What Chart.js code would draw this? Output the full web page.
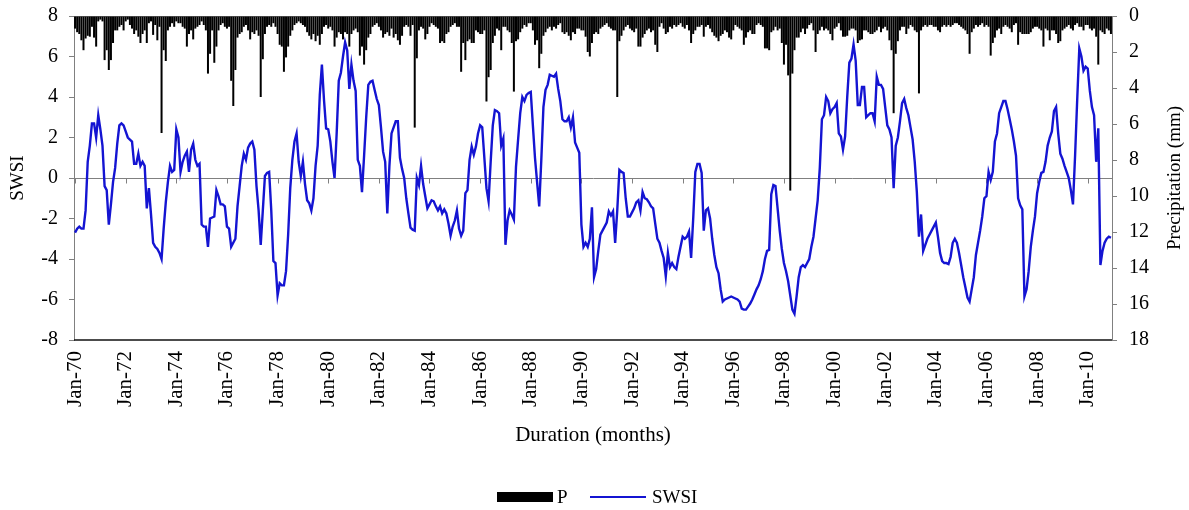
<!DOCTYPE html>
<html><head><meta charset="utf-8">
<script src="https://cdn.jsdelivr.net/npm/chart.js@4"></script>
<style>
html,body{margin:0;padding:0;background:#fff;}
#wrap{position:relative;width:1189px;height:510px;overflow:hidden;}
canvas{position:absolute;left:0;top:0;}
#legend{position:absolute;top:486px;left:0;width:1189px;height:22px;font-family:"Liberation Serif","Times New Roman",serif;font-size:19px;color:#000;}
.item{position:absolute;top:0;display:flex;align-items:center;height:22px;white-space:nowrap;}
</style></head>
<body><div id="wrap"><canvas id="c" width="1189" height="510"></canvas>
<div id="legend">
<div class="item" style="left:497px"><span style="display:inline-block;width:56px;height:10px;background:#000;margin-right:4px"></span>P</div>
<div class="item" style="left:590px"><span style="display:inline-block;width:56px;height:0;border-top:2.5px solid #1414D2;margin-right:6px"></span>SWSI</div>
</div></div>
<script>
const FONT = '"Liberation Serif", "Times New Roman", serif';
const years = [];
for (let y = 1970; y <= 2010; y++) years.push(y);
const monthNames = ['Jan','Feb','Mar','Apr','May','Jun','Jul','Aug','Sep','Oct','Nov','Dec'];
const tickLabels = ['Jan-70','Jan-72','Jan-74','Jan-76','Jan-78','Jan-80','Jan-82','Jan-84','Jan-86','Jan-88','Jan-90','Jan-92','Jan-94','Jan-96','Jan-98','Jan-00','Jan-02','Jan-04','Jan-06','Jan-08','Jan-10'];

const swsi = [
-2.7,-2.5,-2.4,-2.5,-2.5,-1.6,0.8,1.6,2.7,2.7,2.0,3.1,
2.4,1.6,-0.4,-0.6,-2.3,-1.3,-0.2,0.5,1.7,2.6,2.7,2.6,
2.3,2.0,1.9,1.8,0.7,0.7,1.2,0.6,0.8,0.6,-1.5,-0.5,
-1.8,-3.2,-3.4,-3.5,-3.7,-4.0,-2.5,-1.2,-0.2,0.6,0.3,0.4,
2.4,2.0,0.3,0.8,1.1,1.3,0.3,1.4,1.7,0.9,0.6,0.7,
-2.3,-2.4,-2.4,-3.4,-2.0,-1.95,-1.9,-0.6,-0.9,-1.3,-1.3,-1.4,
-2.4,-2.5,-3.4,-3.2,-3.0,-1.4,-0.4,0.6,1.2,0.9,1.5,1.7,
1.8,1.4,-0.4,-1.6,-3.3,-1.6,0.1,0.25,0.3,-1.6,-4.1,-4.2,
-5.8,-5.2,-5.3,-5.3,-4.6,-2.8,-0.5,0.9,1.8,2.2,0.8,0.1,
0.8,-0.3,-1.1,-1.25,-1.6,-1.0,0.6,1.6,4.1,5.6,3.85,2.45,
2.4,1.8,0.8,0.0,2.2,4.8,5.2,6.0,6.7,6.3,4.4,5.6,
4.8,4.3,0.9,0.6,-0.7,1.1,3.0,4.6,4.75,4.8,4.35,3.9,
3.6,2.5,1.3,0.8,-1.75,0.6,2.2,2.5,2.8,2.8,1.0,0.45,
0.0,-1.0,-1.75,-2.45,-2.55,-2.6,0.0,-0.35,0.6,-0.3,-0.9,-1.5,
-1.3,-1.1,-1.15,-1.4,-1.6,-1.4,-1.75,-1.55,-1.75,-2.25,-2.85,-2.4,
-2.1,-1.6,-2.5,-2.85,-2.6,-0.75,-0.6,0.9,1.55,1.15,1.55,2.2,
2.6,2.5,1.0,-0.5,-1.15,0.8,2.6,3.35,3.3,3.2,1.6,1.95,
-3.3,-2.1,-1.6,-1.8,-2.05,0.55,1.9,3.2,4.0,3.8,4.1,4.2,
4.25,2.6,1.0,-0.2,-1.4,0.9,3.5,4.35,4.6,5.1,5.05,5.0,
5.15,4.4,3.8,2.9,2.8,2.8,3.0,2.5,3.0,1.75,1.5,1.25,
-2.3,-3.4,-3.2,-3.4,-3.0,-1.45,-4.9,-4.5,-3.6,-2.8,-2.6,-2.4,
-2.2,-1.65,-1.85,-1.65,-3.2,-1.6,0.4,0.3,0.25,-1.0,-1.9,-1.9,
-1.7,-1.5,-1.2,-1.1,-1.6,-0.7,-1.0,-1.05,-1.2,-1.4,-1.5,-2.25,
-3.0,-3.2,-3.6,-3.95,-4.85,-3.7,-4.4,-4.2,-4.4,-4.5,-3.9,-3.4,
-2.9,-3.0,-2.9,-2.65,-3.95,-2.0,0.3,0.7,0.7,0.25,-2.6,-1.6,
-1.5,-2.0,-3.0,-3.8,-4.4,-4.7,-5.5,-6.1,-6.0,-5.95,-5.9,-5.85,
-5.9,-5.95,-6.0,-6.1,-6.45,-6.5,-6.5,-6.35,-6.2,-6.0,-5.75,-5.5,
-5.3,-5.0,-4.6,-4.0,-3.6,-3.55,-0.8,-0.35,-0.4,-1.5,-2.6,-3.5,
-4.2,-4.6,-5.1,-5.8,-6.5,-6.7,-5.85,-4.9,-4.4,-4.3,-4.4,-4.2,
-4.0,-3.4,-2.9,-2.0,-1.1,0.5,2.9,3.1,4.0,3.8,3.2,3.4,
3.5,3.7,2.2,2.05,1.4,2.05,4.0,5.7,5.9,6.6,5.8,3.6,
3.6,4.5,4.5,3.0,3.1,3.2,3.2,2.8,5.0,4.6,4.6,4.4,
3.5,2.6,2.4,2.0,-0.5,1.6,2.0,2.8,3.7,3.9,3.45,3.1,
2.5,1.9,0.8,-0.7,-2.9,-1.8,-3.6,-3.3,-3.0,-2.8,-2.6,-2.4,
-2.2,-2.9,-3.7,-4.1,-4.2,-4.2,-4.25,-3.9,-3.2,-3.0,-3.2,-3.7,
-4.3,-4.9,-5.4,-5.9,-6.1,-5.5,-4.9,-3.8,-3.2,-2.6,-1.9,-1.0,
-0.9,0.3,-0.1,0.3,1.8,2.2,3.2,3.5,3.8,3.8,3.4,2.9,
2.4,1.8,1.1,-1.0,-1.35,-1.55,-5.85,-5.5,-4.6,-3.4,-2.6,-1.9,
-0.75,-0.2,0.25,0.3,0.8,1.6,2.0,2.3,3.3,3.5,2.2,1.2,
0.95,0.6,0.3,0.0,-0.6,-1.3,1.1,3.85,6.4,6.0,5.3,5.5,
5.4,4.3,3.5,3.1,0.8,2.45,-4.3,-3.6,-3.2,-3.0,-2.9,-2.95
];

const precip = [
0.7,0.9,1.0,1.35,1.9,1.25,1.1,1.15,0.6,1.2,1.7,0.3,
0.2,0.3,2.45,1.9,3.0,2.45,1.5,0.8,0.8,0.6,0.5,0.8,
0.3,0.2,0.5,0.7,1.0,0.8,1.15,1.5,1.0,0.8,1.5,0.4,
0.3,1.05,0.5,1.35,0.6,6.5,1.9,2.5,0.8,0.6,0.4,0.6,
0.3,0.4,0.4,0.6,0.7,1.7,1.0,0.8,1.3,0.7,0.6,0.5,
0.3,0.5,0.8,3.2,2.1,0.8,2.6,1.7,0.8,0.5,0.4,0.6,
0.7,0.6,3.6,5.0,3.0,1.2,1.0,0.9,0.6,0.5,0.8,1.3,
0.9,1.0,0.8,1.1,4.5,2.4,1.0,0.6,0.5,0.6,0.4,0.6,
1.0,1.6,1.7,3.1,2.3,1.7,1.1,0.8,0.5,0.4,0.3,0.4,
0.5,0.6,0.9,1.1,1.3,1.0,1.4,1.1,1.6,1.0,0.6,0.5,
0.7,0.6,0.8,1.7,1.2,0.9,1.0,1.3,0.9,1.0,1.7,1.0,
0.8,0.7,0.9,2.2,1.7,2.7,1.9,1.2,1.0,0.6,0.5,0.4,
0.6,0.8,1.2,1.0,0.9,1.1,0.7,1.2,1.0,1.35,1.6,1.1,
0.6,0.5,0.6,1.1,0.5,6.2,2.35,0.8,0.6,0.7,1.3,1.0,
0.6,0.4,0.5,0.6,0.7,1.5,1.4,1.5,1.0,0.9,0.6,0.5,
0.4,0.6,0.6,3.1,1.5,2.45,1.4,1.3,1.5,1.5,0.8,0.9,
1.0,1.0,0.8,4.75,3.4,3.0,1.5,1.1,0.7,0.8,1.9,0.6,
0.6,0.8,0.9,1.5,4.2,1.4,1.3,0.9,0.7,0.5,0.6,0.4,
0.4,0.8,1.6,1.35,2.9,2.1,1.1,0.9,0.7,0.6,0.8,0.6,
0.7,0.5,0.4,0.9,1.0,0.9,1.1,1.35,0.9,1.0,0.7,0.7,
0.8,0.8,1.15,2.0,2.25,1.5,1.0,0.9,1.0,0.7,0.6,0.5,
0.4,0.6,0.7,0.8,0.8,4.5,1.4,1.1,0.8,0.6,0.5,0.7,
0.8,0.9,0.7,1.7,1.7,1.2,1.0,0.8,0.7,0.9,0.8,1.6,
2.0,0.6,0.4,0.7,1.0,0.9,0.6,0.7,0.5,0.6,0.5,0.4,
0.6,0.7,0.5,0.8,1.5,1.0,0.8,0.6,0.6,0.5,1.15,0.6,
0.5,0.7,0.9,1.1,1.2,1.4,1.1,1.0,0.8,0.9,1.2,1.3,
0.8,0.5,0.6,0.7,0.8,1.6,1.2,0.9,0.8,1.0,1.0,0.5,
0.4,0.5,0.6,1.8,1.8,1.9,0.9,0.8,0.6,0.8,0.7,1.5,
2.7,1.6,3.3,9.7,3.2,1.9,1.2,1.2,0.9,0.7,1.0,0.7,
0.5,0.4,0.8,2.0,1.0,0.8,0.6,0.8,0.7,0.8,1.0,1.35,
0.7,0.6,0.4,0.8,1.15,1.15,1.1,0.8,0.7,0.7,0.8,1.5,
1.35,1.3,0.8,0.8,0.9,1.0,1.0,0.9,0.8,0.6,0.9,0.7,
0.6,0.8,1.35,1.9,5.4,2.1,1.4,0.8,0.6,0.6,1.0,0.7,
0.5,0.6,0.8,0.9,4.3,0.8,0.6,0.5,0.6,0.5,0.5,0.6,
0.6,0.8,0.9,0.6,0.5,0.6,0.5,0.6,0.5,0.4,0.4,0.5,
0.6,0.7,0.8,1.0,2.1,0.9,0.7,0.5,0.6,0.5,0.4,0.6,
0.5,0.6,2.2,1.5,1.2,0.8,0.7,1.0,0.6,0.5,0.6,0.7,
0.9,0.5,0.4,1.6,0.9,1.0,1.0,1.0,1.0,0.9,0.7,0.6,
0.6,0.7,0.8,1.7,0.7,0.8,1.35,0.8,0.8,1.0,1.5,1.4,
0.8,0.7,0.6,0.5,0.7,0.8,0.5,0.4,0.6,0.6,0.8,0.5,
0.5,0.7,0.8,0.7,1.15,2.7,0.8,0.9,1.0,0.7,0.8,1.0
];

const categories = [];
years.forEach(y => monthNames.forEach(m => categories.push(m + '-' + String(y).slice(2))));

const decor = {
  id: 'decor',
  beforeDatasetsDraw(chart) {
    const {ctx, chartArea: a, scales: {x, y}} = chart;
    ctx.save();
    ctx.strokeStyle = '#808080';
    ctx.lineWidth = 1;
    const y0 = Math.round(y.getPixelForValue(0)) + 0.5;
    categories.forEach((c, i) => {
      if (tickLabels.includes(c)) {
        const px = Math.round(x.getPixelForValue(i)) + 0.5;
        ctx.beginPath(); ctx.moveTo(px, y0); ctx.lineTo(px, y0 + 5); ctx.stroke();
      }
    });
    ctx.beginPath(); ctx.moveTo(a.left, a.top + 0.5); ctx.lineTo(a.right, a.top + 0.5); ctx.stroke();
    ctx.restore();
  },
  afterDraw(chart) {
    const {ctx, chartArea: a} = chart;
    ctx.save();
    ctx.strokeStyle = '#111';
    ctx.lineWidth = 1.6;
    ctx.beginPath(); ctx.moveTo(a.left, a.bottom); ctx.lineTo(a.right, a.bottom); ctx.stroke();
    ctx.translate(1175, (a.top + a.bottom) / 2);
    ctx.rotate(-Math.PI / 2);
    ctx.fillStyle = '#000';
    ctx.font = '19px ' + FONT;
    ctx.textAlign = 'center';
    ctx.textBaseline = 'middle';
    ctx.fillText('Precipitation (mm)', 0, 0);
    ctx.restore();
  }
};

new Chart(document.getElementById('c'), {
  data: {
    labels: categories,
    datasets: [
      {type: 'line', label: 'SWSI', data: swsi, yAxisID: 'y', borderColor: '#1414D2', borderWidth: 2.4,
       pointRadius: 0, tension: 0, fill: false, order: 0},
      {type: 'bar', label: 'P', data: precip, yAxisID: 'y2', backgroundColor: '#000',
       barPercentage: 1.0, categoryPercentage: 0.95, order: 1}
    ]
  },
  options: {
    responsive: false,
    animation: false,
    layout: {padding: {top: 16, bottom: 50, left: 0, right: 0}},
    plugins: {legend: {display: false}, tooltip: {enabled: false}},
    scales: {
      x: {
        type: 'category', offset: true,
        grid: {display: false, drawTicks: false},
        border: {display: false},
        ticks: {autoSkip: false, minRotation: 90, maxRotation: 90, padding: 11, color: '#000',
          font: {family: FONT, size: 21},
          callback: function (v) { const l = this.getLabelForValue(v); return tickLabels.includes(l) ? l : ''; }},
        title: {display: true, text: 'Duration (months)', color: '#000', font: {family: FONT, size: 21},
          padding: {top: 0, bottom: 12}},
        afterFit(s) { s.height = 120; s.paddingLeft = 0; s.paddingRight = 0; }
      },
      y: {
        position: 'left', min: -8, max: 8,
        ticks: {stepSize: 2, color: '#000', font: {family: FONT, size: 20}, padding: 11},
        grid: {color: c => (c.tick && c.tick.value === 0) ? '#808080' : 'rgba(0,0,0,0)', tickColor: '#808080', tickLength: 5},
        border: {color: '#808080'},
        title: {display: true, text: 'SWSI', color: '#000', font: {family: FONT, size: 19}, padding: {top: 7, bottom: 0}},
        afterFit(s) { s.width = 74; s.paddingTop = 0; s.paddingBottom = 0; }
      },
      y2: {
        position: 'right', reverse: true, min: 0, max: 18,
        ticks: {stepSize: 2, color: '#000', font: {family: FONT, size: 20}, padding: 12},
        grid: {drawOnChartArea: false, tickColor: '#808080', tickLength: 5},
        border: {color: '#808080'},
        afterFit(s) { s.width = 77; s.paddingTop = 0; s.paddingBottom = 0; }
      }
    }
  },
  plugins: [decor]
});
</script>
</body></html>
